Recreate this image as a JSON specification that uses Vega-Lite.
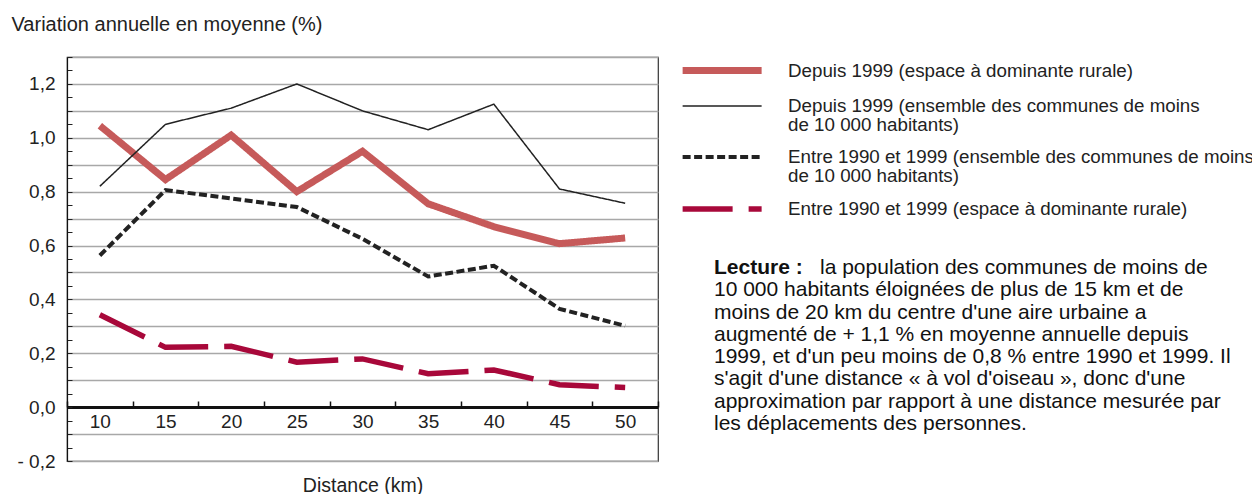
{
  "$schema": "https://vega.github.io/schema/vega-lite/v6.json",
  "background": "white",
  "padding": {"left": 10, "top": 13, "right": 0, "bottom": 0},
  "bounds": "flush",
  "spacing": 56,
  "config": {"font": "Liberation Sans", "view": {"stroke": "#333", "strokeWidth": 1.2}},
  "hconcat": [
    {
      "width": 591,
      "height": 404,
      "data": {"values": [
        {"distance": 10, "serie": "Depuis 1999 (espace à dominante rurale)", "value": 1.045},
        {"distance": 15, "serie": "Depuis 1999 (espace à dominante rurale)", "value": 0.845},
        {"distance": 20, "serie": "Depuis 1999 (espace à dominante rurale)", "value": 1.01},
        {"distance": 25, "serie": "Depuis 1999 (espace à dominante rurale)", "value": 0.8},
        {"distance": 30, "serie": "Depuis 1999 (espace à dominante rurale)", "value": 0.95},
        {"distance": 35, "serie": "Depuis 1999 (espace à dominante rurale)", "value": 0.755},
        {"distance": 40, "serie": "Depuis 1999 (espace à dominante rurale)", "value": 0.67},
        {"distance": 45, "serie": "Depuis 1999 (espace à dominante rurale)", "value": 0.607},
        {"distance": 50, "serie": "Depuis 1999 (espace à dominante rurale)", "value": 0.628},
        {"distance": 10, "serie": "Depuis 1999 (ensemble des communes de moins de 10 000 habitants)", "value": 0.82},
        {"distance": 15, "serie": "Depuis 1999 (ensemble des communes de moins de 10 000 habitants)", "value": 1.05},
        {"distance": 20, "serie": "Depuis 1999 (ensemble des communes de moins de 10 000 habitants)", "value": 1.11},
        {"distance": 25, "serie": "Depuis 1999 (ensemble des communes de moins de 10 000 habitants)", "value": 1.2},
        {"distance": 30, "serie": "Depuis 1999 (ensemble des communes de moins de 10 000 habitants)", "value": 1.1},
        {"distance": 35, "serie": "Depuis 1999 (ensemble des communes de moins de 10 000 habitants)", "value": 1.03},
        {"distance": 40, "serie": "Depuis 1999 (ensemble des communes de moins de 10 000 habitants)", "value": 1.125},
        {"distance": 45, "serie": "Depuis 1999 (ensemble des communes de moins de 10 000 habitants)", "value": 0.81},
        {"distance": 50, "serie": "Depuis 1999 (ensemble des communes de moins de 10 000 habitants)", "value": 0.757},
        {"distance": 10, "serie": "Entre 1990 et 1999 (ensemble des communes de moins de 10 000 habitants)", "value": 0.563},
        {"distance": 15, "serie": "Entre 1990 et 1999 (ensemble des communes de moins de 10 000 habitants)", "value": 0.806},
        {"distance": 20, "serie": "Entre 1990 et 1999 (ensemble des communes de moins de 10 000 habitants)", "value": 0.775},
        {"distance": 25, "serie": "Entre 1990 et 1999 (ensemble des communes de moins de 10 000 habitants)", "value": 0.743},
        {"distance": 30, "serie": "Entre 1990 et 1999 (ensemble des communes de moins de 10 000 habitants)", "value": 0.625},
        {"distance": 35, "serie": "Entre 1990 et 1999 (ensemble des communes de moins de 10 000 habitants)", "value": 0.485},
        {"distance": 40, "serie": "Entre 1990 et 1999 (ensemble des communes de moins de 10 000 habitants)", "value": 0.525},
        {"distance": 45, "serie": "Entre 1990 et 1999 (ensemble des communes de moins de 10 000 habitants)", "value": 0.365},
        {"distance": 50, "serie": "Entre 1990 et 1999 (ensemble des communes de moins de 10 000 habitants)", "value": 0.302},
        {"distance": 10, "serie": "Entre 1990 et 1999 (espace à dominante rurale)", "value": 0.343},
        {"distance": 15, "serie": "Entre 1990 et 1999 (espace à dominante rurale)", "value": 0.222},
        {"distance": 20, "serie": "Entre 1990 et 1999 (espace à dominante rurale)", "value": 0.226},
        {"distance": 25, "serie": "Entre 1990 et 1999 (espace à dominante rurale)", "value": 0.167},
        {"distance": 30, "serie": "Entre 1990 et 1999 (espace à dominante rurale)", "value": 0.179},
        {"distance": 35, "serie": "Entre 1990 et 1999 (espace à dominante rurale)", "value": 0.124},
        {"distance": 40, "serie": "Entre 1990 et 1999 (espace à dominante rurale)", "value": 0.138},
        {"distance": 45, "serie": "Entre 1990 et 1999 (espace à dominante rurale)", "value": 0.083},
        {"distance": 50, "serie": "Entre 1990 et 1999 (espace à dominante rurale)", "value": 0.073}
      ]},
      "mark": {"type": "line", "strokeJoin": "miter", "strokeCap": "butt"},
      "encoding": {
        "x": {
          "field": "distance", "type": "ordinal",
          "scale": {"type": "band", "paddingInner": 0, "paddingOuter": 0},
          "axis": {
            "title": "Distance (km)", "titleFontSize": 19.5, "titleFontWeight": "normal", "titleColor": "#222",
            "titleY": 78, "titleBaseline": "middle",
            "offset": -54,
            "labelAngle": 0, "labelFontSize": 19, "labelColor": "#222", "labelBaseline": "middle", "labelPadding": 20,
            "tickBand": "extent", "tickSize": -6, "tickWidth": 1.5, "tickColor": "#111",
            "domainWidth": 3, "domainColor": "#111", "grid": false
          }
        },
        "y": {
          "field": "value", "type": "quantitative",
          "scale": {"domain": [-0.2, 1.3], "nice": false, "zero": false},
          "axis": {
            "values": [-0.2, -0.15, -0.1, -0.05, 0, 0.05, 0.1, 0.15, 0.2, 0.25, 0.3, 0.35, 0.4, 0.45, 0.5, 0.55, 0.6, 0.65, 0.7, 0.75, 0.8, 0.85, 0.9, 0.95, 1, 1.05, 1.1, 1.15, 1.2, 1.25, 1.3],
            "title": "Variation annuelle en moyenne (%)",
            "titleAngle": 0, "titleAlign": "left", "titleBaseline": "alphabetic",
            "titleX": -56, "titleY": -27, "titleFontSize": 20, "titleFontWeight": "normal", "titleColor": "#222",
            "labelExpr": "abs(round(datum.value*100)) % 20 == 0 ? (datum.value < -0.001 ? '- ' : '') + replace(format(abs(datum.value), '.1f'), '.', ',') : ''",
            "labelFontSize": 19, "labelColor": "#222", "labelPadding": 17, "labelOverlap": false,
            "tickSize": -5, "tickColor": "#222", "tickWidth": 1,
            "domainColor": "#111", "domainWidth": 1.2,
            "grid": true, "gridColor": "#a8a8a8", "gridWidth": 1.3,
            "gridOpacity": {"condition": {"test": "abs(round(datum.value*100)) % 10 == 0", "value": 1}, "value": 0}
          }
        },
        "color": {
          "field": "serie", "type": "nominal",
          "scale": {
            "domain": ["Depuis 1999 (espace à dominante rurale)", "Depuis 1999 (ensemble des communes de moins de 10 000 habitants)", "Entre 1990 et 1999 (ensemble des communes de moins de 10 000 habitants)", "Entre 1990 et 1999 (espace à dominante rurale)"],
            "range": ["#c65a5a", "#222222", "#222222", "#a8083a"]
          },
          "legend": {
            "orient": "none", "legendX": 612, "legendY": 0, "title": null,
            "symbolType": "M-1,0H7", "symbolSize": 390,
            "labelExpr": "split(replace(datum.label, 'moins de 10 000', 'moins|de 10 000'), '|')",
            "labelFontSize": 18.75, "labelColor": "#222", "labelOffset": 82, "labelLimit": 600,
            "rowPadding": 10,
            "encode": {"labels": {"update": {"lineHeight": {"value": 19}}}}
          }
        },
        "strokeDash": {
          "field": "serie", "type": "nominal",
          "scale": {
            "domain": ["Depuis 1999 (espace à dominante rurale)", "Depuis 1999 (ensemble des communes de moins de 10 000 habitants)", "Entre 1990 et 1999 (ensemble des communes de moins de 10 000 habitants)", "Entre 1990 et 1999 (espace à dominante rurale)"],
            "range": [[1, 0], [1, 0], [8, 3.5], [50, 16]]
          },
          "legend": {
            "orient": "none", "legendX": 612, "legendY": 0, "title": null,
            "symbolType": "M-1,0H7", "symbolSize": 390,
            "labelExpr": "split(replace(datum.label, 'moins de 10 000', 'moins|de 10 000'), '|')",
            "labelFontSize": 18.75, "labelColor": "#222", "labelOffset": 82, "labelLimit": 600,
            "rowPadding": 10,
            "encode": {"labels": {"update": {"lineHeight": {"value": 19}}}}
          }
        },
        "strokeWidth": {
          "field": "serie", "type": "nominal",
          "scale": {
            "type": "ordinal",
            "domain": ["Depuis 1999 (espace à dominante rurale)", "Depuis 1999 (ensemble des communes de moins de 10 000 habitants)", "Entre 1990 et 1999 (ensemble des communes de moins de 10 000 habitants)", "Entre 1990 et 1999 (espace à dominante rurale)"],
            "range": [7, 1.5, 4, 5.5]
          },
          "legend": {
            "orient": "none", "legendX": 612, "legendY": 0, "title": null,
            "symbolType": "M-1,0H7", "symbolSize": 390,
            "labelExpr": "split(replace(datum.label, 'moins de 10 000', 'moins|de 10 000'), '|')",
            "labelFontSize": 18.75, "labelColor": "#222", "labelOffset": 82, "labelLimit": 600,
            "rowPadding": 10,
            "encode": {"labels": {"update": {"lineHeight": {"value": 19}}}}
          }
        }
      }
    },
    {
      "width": 530,
      "height": 404,
      "view": {"stroke": null},
      "data": {"values": [
        {"i": 0, "lead": "Lecture :", "t": "la population des communes de moins de"},
        {"i": 1, "t": "10 000 habitants éloignées de plus de 15 km et de"},
        {"i": 2, "t": "moins de 20 km du centre d'une aire urbaine a"},
        {"i": 3, "t": "augmenté de + 1,1 % en moyenne annuelle depuis"},
        {"i": 4, "t": "1999, et d'un peu moins de 0,8 % entre 1990 et 1999. Il"},
        {"i": 5, "t": "s'agit d'une distance « à vol d'oiseau », donc d'une"},
        {"i": 6, "t": "approximation par rapport à une distance mesurée par"},
        {"i": 7, "t": "les déplacements des personnes."}
      ]},
      "encoding": {
        "x": {"value": 0},
        "y": {"field": "i", "type": "quantitative", "scale": {"domain": [-9.462, 8.655], "reverse": true, "nice": false, "zero": false}, "axis": null}
      },
      "layer": [
        {
          "transform": [{"filter": "datum.lead != null"}],
          "mark": {"type": "text", "align": "left", "baseline": "middle", "fontSize": 21, "fontWeight": "bold", "color": "#111"},
          "encoding": {"text": {"field": "lead"}}
        },
        {
          "transform": [{"filter": "datum.i == 0"}],
          "mark": {"type": "text", "align": "left", "baseline": "middle", "fontSize": 21, "color": "#111", "dx": 106},
          "encoding": {"text": {"field": "t"}}
        },
        {
          "transform": [{"filter": "datum.i > 0"}],
          "mark": {"type": "text", "align": "left", "baseline": "middle", "fontSize": 21, "color": "#111"},
          "encoding": {"text": {"field": "t"}}
        }
      ]
    }
  ]
}
